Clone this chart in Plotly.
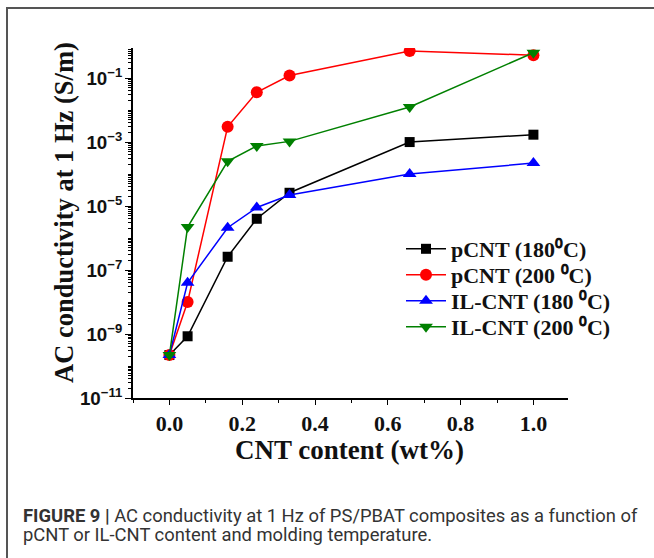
import plotly.graph_objects as go

# CNT content (wt%)
cnt = [0.0, 0.05, 0.16, 0.24, 0.33, 0.66, 1.0]

# AC conductivity at 1 Hz (S/m)
pcnt_180 = [2.2e-10, 8.5e-10, 2.6e-7, 4.0e-6, 2.6e-5, 1.0e-3, 1.7e-3]
pcnt_200 = [2.2e-10, 1.0e-8, 3.0e-3, 3.6e-2, 1.2e-1, 7.0e-1, 5.2e-1]
ilcnt_180 = [2.2e-10, 4.0e-8, 2.1e-6, 9.0e-6, 2.2e-5, 1.0e-4, 2.2e-4]
ilcnt_200 = [2.2e-10, 2.2e-6, 2.5e-4, 7.5e-4, 1.05e-3, 1.25e-2, 6.2e-1]

names = ["pCNT (180⁰C)", "pCNT (200 ⁰C)",
         "IL-CNT (180 ⁰C)", "IL-CNT (200 ⁰C)"]
colors = ["#000000", "#ff0000", "#0000ff", "#008000"]
symbols = ["square", "circle", "triangle-up", "triangle-down"]
sizes = [10, 12, 12, 12]
series = [pcnt_180, pcnt_200, ilcnt_180, ilcnt_200]
legend_ids = ["legend", "legend2", "legend3", "legend4"]

serif = "Liberation Serif, Times New Roman, serif"
sans = "Liberation Sans, Arial, sans-serif"

# plot area: left 133, right 568, top 48, bottom 398 px
L, R, T, B = 133, 568, 48, 398
W, H = 654, 558
pw, ph = R - L, B - T

def px(x):
    return (x - L) / pw

def py(y):
    return (B - y) / ph

fig = go.Figure()
for name, col, sym, sz, vals, lg in zip(names, colors, symbols, sizes, series, legend_ids):
    fig.add_trace(go.Scatter(
        x=cnt, y=vals, name=name, mode="lines+markers",
        line=dict(color=col, width=1.5),
        marker=dict(color=col, symbol=sym, size=sz),
        legend=lg,
    ))

legend_rows = [249, 275, 301, 327]
legend_layout = {}
for lg, row in zip(legend_ids, legend_rows):
    legend_layout[lg] = dict(
        x=px(401), y=py(row), xanchor="left", yanchor="middle",
        bgcolor="rgba(0,0,0,0)",
        font=dict(family=serif, size=22, color="#111", weight="bold"),
        itemwidth=40,
    )

fig.update_layout(
    width=W, height=H,
    margin=dict(l=L, r=W - R, t=T, b=H - B),
    paper_bgcolor="white", plot_bgcolor="white",
    showlegend=True,
    **legend_layout,
    xaxis=dict(
        range=[-0.1, 1.095], tickmode="linear", tick0=0, dtick=0.2,
        tickformat=".1f",
        showgrid=False, zeroline=False,
        showline=True, linecolor="#000", linewidth=1.5,
        ticks="outside", ticklen=5, tickwidth=1.2, tickcolor="#000",
        minor=dict(dtick=0.1, ticks="outside", ticklen=3, tickcolor="#000"),
        tickfont=dict(family=serif, size=22, color="#111", weight="bold"),
    ),
    yaxis=dict(
        type="log", range=[-11, -0.06], tick0=1, dtick=2,
        exponentformat="power",
        showgrid=False, zeroline=False,
        showline=True, linecolor="#000", linewidth=1.5,
        ticks="outside", ticklen=6, tickwidth=1.2, tickcolor="#000",
        minor=dict(dtick="D1", ticks="outside", ticklen=3, tickwidth=1,
                   tickcolor="#000"),
        tickfont=dict(family=sans, size=15, color="#111", weight="bold"),
    ),
    annotations=[
        dict(text="CNT content (wt%)", xref="paper", yref="paper",
             x=px(349), y=py(450), xanchor="center", yanchor="middle",
             showarrow=False,
             font=dict(family=serif, size=27, color="#111", weight="bold")),
        dict(text="AC conductivity at 1 Hz (S/m)", xref="paper", yref="paper",
             x=px(64), y=py(213), xanchor="center", yanchor="middle",
             textangle=-90, showarrow=False,
             font=dict(family=serif, size=26.5, color="#111", weight="bold")),
        dict(text="<b>FIGURE 9 |</b> AC conductivity at 1 Hz of PS/PBAT composites as a function of",
             xref="paper", yref="paper", x=px(21), y=py(515),
             xanchor="left", yanchor="middle", align="left", showarrow=False,
             font=dict(family="Roboto, Liberation Sans, sans-serif", size=18.4, color="#333")),
        dict(text="pCNT or IL-CNT content and molding temperature.",
             xref="paper", yref="paper", x=px(21), y=py(534),
             xanchor="left", yanchor="middle", align="left", showarrow=False,
             font=dict(family="Roboto, Liberation Sans, sans-serif", size=18.4, color="#333")),
    ],
    shapes=[
        dict(type="path", xref="paper", yref="paper",
             path=f"M {px(7)} {py(562)} L {px(7)} {py(8)} L {px(656)} {py(8)}",
             line=dict(color="#555", width=2)),
    ],
)

fig.write_html("out.html", config={"displayModeBar": False},
               post_script="document.body.style.margin='0px';document.body.style.overflow='hidden';")
